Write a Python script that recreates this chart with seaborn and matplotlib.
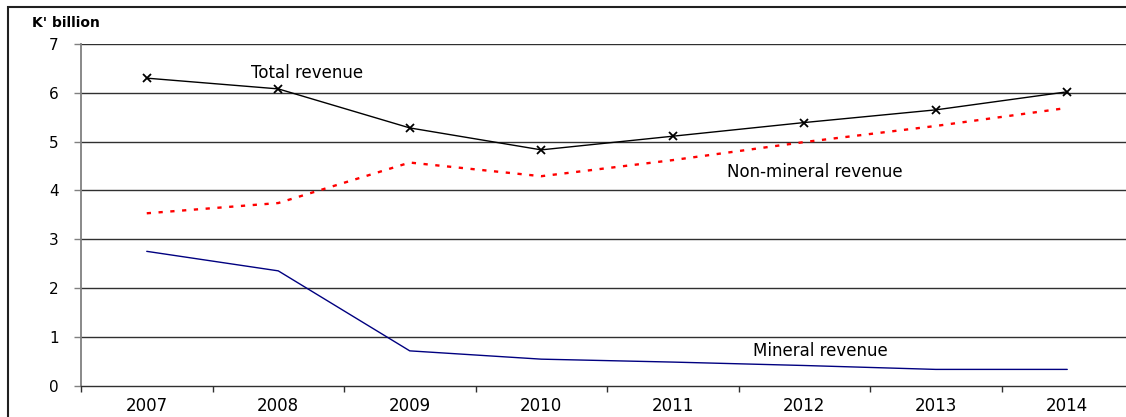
import matplotlib
matplotlib.use("Agg")
import matplotlib.pyplot as plt
from matplotlib.patches import Rectangle
from matplotlib.ticker import FixedLocator, NullFormatter
import numpy as np
import pandas as pd
import seaborn as sns

# Government revenue, K' billion
years = ["2007", "2008", "2009", "2010", "2011", "2012", "2013", "2014"]
total_revenue = [6.30, 6.08, 5.28, 4.83, 5.11, 5.39, 5.65, 6.02]
non_mineral_revenue = [3.53, 3.74, 4.57, 4.29, 4.62, 4.99, 5.32, 5.69]
mineral_revenue = [2.75, 2.35, 0.71, 0.54, 0.48, 0.41, 0.33, 0.33]
y_ticks = [0, 1, 2, 3, 4, 5, 6, 7]

sns.set_theme(style="white")
plt.rcParams["font.family"] = ["DejaVu Sans"]

W, H = 1126, 417
fig = plt.figure(figsize=(W / 100, H / 100), dpi=100)
fig.patch.set_facecolor("white")

# plot area in pixels: left 81, right 1133 (runs past the canvas), top 44, bottom 385.5
left, right, top, bottom = 81, 1133, 44, 385.5
ax = fig.add_axes([left / W, 1 - bottom / H, (right - left) / W, (bottom - top) / H])

pos = np.arange(len(years))
df = pd.DataFrame({
    "pos": pos,
    "Total revenue": total_revenue,
    "Non-mineral revenue": non_mineral_revenue,
    "Mineral revenue": mineral_revenue,
})

sns.lineplot(data=df, x="pos", y="Total revenue", ax=ax, color="black", lw=1.0,
             marker="x", markersize=5.5, markeredgewidth=1.3, markeredgecolor="black")
sns.lineplot(data=df, x="pos", y="Non-mineral revenue", ax=ax, color="#ff0000", lw=1.7,
             linestyle=(0, (1.8, 3.2)))
sns.lineplot(data=df, x="pos", y="Mineral revenue", ax=ax, color="#000080", lw=1.0)

ax.set_xlim(-0.5, len(years) - 0.5)
ax.set_ylim(0, 7)
ax.set_xlabel("")
ax.set_ylabel("")

# horizontal gridlines
for v in y_ticks[1:]:
    ax.axhline(v, color="#303030", lw=1.0, zorder=0)

# x axis: tick marks on category boundaries, labels centred on categories
ax.xaxis.set_major_locator(FixedLocator(np.arange(-0.5, len(years), 1.0)))
ax.xaxis.set_major_formatter(NullFormatter())
ax.xaxis.set_minor_locator(FixedLocator(pos))
ax.set_xticklabels(years, minor=True)
ax.tick_params(axis="x", which="major", direction="out", length=4, width=1.0,
               color="#303030", bottom=True)
ax.tick_params(axis="x", which="minor", length=0, pad=8, labelsize=12,
               labelcolor="black", bottom=True)

ax.set_yticks(y_ticks)
ax.set_yticklabels([str(v) for v in y_ticks])
ax.tick_params(axis="y", direction="out", length=5, width=1.0, color="#808080",
               pad=11, labelsize=11, labelcolor="black", left=True)

for s in ["top", "right"]:
    ax.spines[s].set_visible(False)
ax.spines["left"].set_color("#808080")
ax.spines["left"].set_linewidth(1.3)
ax.spines["bottom"].set_color("#303030")
ax.spines["bottom"].set_linewidth(1.0)

# series labels
ax.text(0.79, 6.40, "Total revenue", fontsize=12, va="center", ha="left", color="black")
ax.text(4.41, 4.38, "Non-mineral revenue", fontsize=12, va="center", ha="left", color="black")
ax.text(4.61, 0.71, "Mineral revenue", fontsize=12, va="center", ha="left", color="black")

# unit label
fig.text(32 / W, 1 - 23 / H, "K' billion", fontsize=10, fontweight="bold",
         va="center", ha="left", color="black")

# outer frame
fig.add_artist(Rectangle((8 / W, -0.2), 1.2, 0.2 + (1 - 7 / H),
                         transform=fig.transFigure, fill=False, lw=1.5,
                         edgecolor="#202020"))

fig.savefig("out.png", dpi=100)
